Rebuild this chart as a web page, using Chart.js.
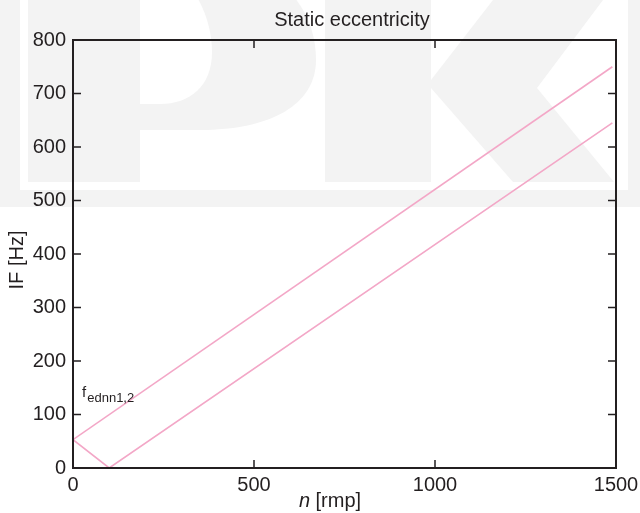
<!DOCTYPE html>
<html>
<head>
<meta charset="utf-8">
<script src="https://cdn.jsdelivr.net/npm/chart.js"></script>
<style>
    html, body { margin: 0; padding: 0; background: #fff; }
    #wrap { width: 640px; height: 513px; }
</style>
</head>
<body>
<div id="wrap"><canvas id="chart" width="640" height="513"></canvas></div>
<script>
/* ============================================
   DATA
   ============================================ */
const xTicks = [0, 500, 1000, 1500];
const yTicks = [0, 100, 200, 300, 400, 500, 600, 700, 800];

// upper branch f_ednn1
const upperN = [0, 1490];
const upperF = [53, 750];

// lower branch f_ednn2 (folds at zero)
const lowerN = [0, 100, 1490];
const lowerF = [53, 0, 645];

const LINE = '#f3a7c7';
const INK = '#231f20';
const FONT = "'Liberation Sans', Arial, Helvetica, sans-serif";

const toPoints = (xs, ys) => xs.map((x, i) => ({ x: x, y: ys[i] }));

/* ============================================
   BACKGROUND WATERMARK (PK)
   ============================================ */
const watermark = {
    id: 'watermark',
    beforeDraw(chart) {
        const ctx = chart.ctx;
        ctx.save();
        ctx.fillStyle = '#fff';
        ctx.fillRect(0, 0, chart.width, chart.height);

        const gray = '#f3f3f3';
        // frame
        ctx.fillStyle = gray;
        ctx.fillRect(0, 0, 640, 207);
        ctx.fillStyle = '#fff';
        ctx.fillRect(20, 0, 608, 190);

        ctx.fillStyle = gray;
        // P stem
        ctx.fillRect(28, 0, 112, 182);
        // P bowl
        ctx.beginPath();
        ctx.moveTo(140, -40);
        ctx.lineTo(200, -40);
        ctx.bezierCurveTo(282, -40, 316, 10, 316, 60);
        ctx.bezierCurveTo(316, 105, 270, 130, 200, 130);
        ctx.lineTo(140, 130);
        ctx.closePath();
        ctx.fill();
        ctx.fillStyle = '#fff';
        ctx.beginPath();
        ctx.moveTo(140, -40);
        ctx.lineTo(160, -40);
        ctx.bezierCurveTo(196, -20, 212, 20, 212, 52);
        ctx.bezierCurveTo(212, 86, 190, 104, 160, 104);
        ctx.lineTo(140, 104);
        ctx.closePath();
        ctx.fill();

        // K
        ctx.fillStyle = gray;
        ctx.fillRect(325, 0, 106, 182);
        ctx.beginPath();
        ctx.moveTo(431, 80);
        ctx.lineTo(493, 0);
        ctx.lineTo(603, 0);
        ctx.lineTo(537, 88);
        ctx.lineTo(614, 182);
        ctx.lineTo(513, 182);
        ctx.lineTo(431, 88);
        ctx.closePath();
        ctx.fill();
        ctx.restore();
    }
};

/* ============================================
   FRAME, INWARD TICKS, TEXT
   ============================================ */
const frame = {
    id: 'frame',
    afterDraw(chart) {
        const ctx = chart.ctx;
        const a = chart.chartArea;
        const xs = chart.scales.x;
        const ys = chart.scales.y;
        const tick = 8;
        ctx.save();
        ctx.strokeStyle = INK;
        ctx.lineWidth = 2;
        ctx.strokeRect(a.left, a.top, a.right - a.left, a.bottom - a.top);

        ctx.lineWidth = 1.5;
        ctx.beginPath();
        xTicks.forEach(v => {
            const px = xs.getPixelForValue(v);
            if (v === xTicks[0] || v === xTicks[xTicks.length - 1]) return;
            ctx.moveTo(px, a.bottom); ctx.lineTo(px, a.bottom - tick);
            ctx.moveTo(px, a.top); ctx.lineTo(px, a.top + tick);
        });
        yTicks.forEach(v => {
            const py = ys.getPixelForValue(v);
            if (v === yTicks[0] || v === yTicks[yTicks.length - 1]) return;
            ctx.moveTo(a.left, py); ctx.lineTo(a.left + tick, py);
            ctx.moveTo(a.right, py); ctx.lineTo(a.right - tick, py);
        });
        ctx.stroke();

        ctx.fillStyle = INK;
        ctx.textBaseline = 'middle';

        // title
        ctx.font = '20px ' + FONT;
        ctx.textAlign = 'center';
        ctx.fillText('Static eccentricity', 352, 20);

        // x axis title: italic n + [rmp]
        const nTxt = 'n';
        const rest = ' [rmp]';
        ctx.font = 'italic 20px ' + FONT;
        const w1 = ctx.measureText(nTxt).width;
        ctx.font = '20px ' + FONT;
        const w2 = ctx.measureText(rest).width;
        let x0 = 330 - (w1 + w2) / 2;
        ctx.textAlign = 'left';
        ctx.font = 'italic 20px ' + FONT;
        ctx.fillText(nTxt, x0, 501);
        ctx.font = '20px ' + FONT;
        ctx.fillText(rest, x0 + w1, 501);

        // y axis title
        ctx.save();
        ctx.translate(17, 260);
        ctx.rotate(-Math.PI / 2);
        ctx.textAlign = 'center';
        ctx.fillText('IF [Hz]', 0, 0);
        ctx.restore();

        // curve label f_ednn1,2
        const lx = xs.getPixelForValue(25);
        const ly = ys.getPixelForValue(132);
        ctx.textAlign = 'left';
        ctx.textBaseline = 'alphabetic';
        ctx.font = '15px ' + FONT;
        ctx.fillText('f', lx, ly);
        const fw = ctx.measureText('f').width;
        ctx.font = '13px ' + FONT;
        ctx.fillText('ednn1,2', lx + fw + 1, ly + 5);
        ctx.restore();
    }
};

/* ============================================
   CHART
   ============================================ */
new Chart(document.getElementById('chart'), {
    type: 'scatter',
    data: {
        datasets: [
            {
                data: toPoints(upperN, upperF),
                showLine: true,
                borderColor: LINE,
                borderWidth: 1.6,
                pointRadius: 0,
                fill: false
            },
            {
                data: toPoints(lowerN, lowerF),
                showLine: true,
                borderColor: LINE,
                borderWidth: 1.6,
                pointRadius: 0,
                fill: false
            }
        ]
    },
    options: {
        responsive: false,
        animation: false,
        layout: { padding: { left: 0, top: 40, right: 24, bottom: 0 } },
        plugins: {
            legend: { display: false },
            tooltip: { enabled: false },
            title: { display: false }
        },
        scales: {
            x: {
                type: 'linear',
                min: 0,
                max: 1500,
                afterBuildTicks: s => { s.ticks = xTicks.map(v => ({ value: v })); },
                afterFit: s => { s.height = 45; s.paddingLeft = 0; s.paddingRight = 0; },
                grid: { display: false, drawTicks: false },
                border: { display: false },
                ticks: {
                    padding: 5,
                    color: INK,
                    maxRotation: 0,
                    callback: v => String(v),
                    font: { family: FONT, size: 20 }
                }
            },
            y: {
                type: 'linear',
                min: 0,
                max: 800,
                afterBuildTicks: s => { s.ticks = yTicks.map(v => ({ value: v })); },
                afterFit: s => { s.width = 73; },
                grid: { display: false, drawTicks: false },
                border: { display: false },
                ticks: {
                    padding: 7,
                    color: INK,
                    callback: v => String(v),
                    font: { family: FONT, size: 20 }
                }
            }
        }
    },
    plugins: [watermark, frame]
});
</script>
</body>
</html>
